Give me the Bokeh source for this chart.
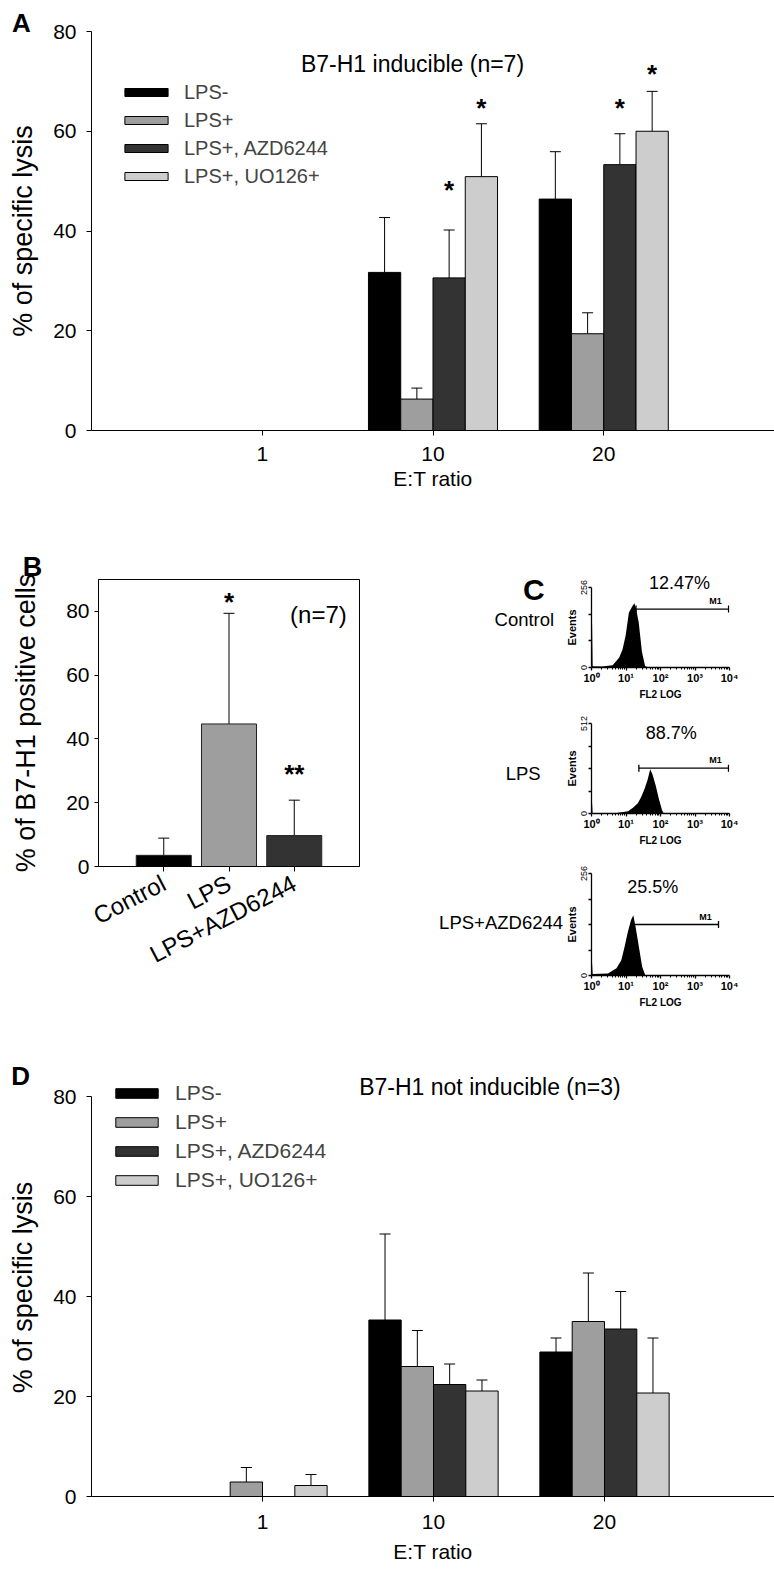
import math
from bokeh.plotting import figure
from bokeh.models import (ColumnDataSource, Whisker, TeeHead, Legend, LegendItem,
                          Label, FixedTicker, CustomJSTickFormatter, Range1d)
from bokeh.layouts import column, row
from bokeh.transform import dodge
from bokeh.core.properties import value
from bokeh.embed import file_html
from bokeh.resources import INLINE

FONT = "Liberation Sans"

# ---------------- data ----------------
ratios = ["1", "10", "20"]
series_names = ["LPS-", "LPS+", "LPS+, AZD6244", "LPS+, UO126+"]
series_colors = ["#000000", "#9e9e9e", "#333333", "#cdcdcd"]

# Panel A: B7-H1 inducible (n=7), % specific lysis
a_lps_neg = [0.0, 31.7, 46.4]
a_lps_neg_err = [0.0, 11.0, 9.5]
a_lps_pos = [0.0, 6.3, 19.4]
a_lps_pos_err = [0.0, 2.2, 4.2]
a_azd = [0.0, 30.6, 53.3]
a_azd_err = [0.0, 9.6, 6.2]
a_uo = [0.0, 50.9, 60.0]
a_uo_err = [0.0, 10.6, 8.0]
a_star_azd = [None, 49.5, 65.8]
a_star_uo = [None, 65.9, 72.6]

# Panel D: B7-H1 not inducible (n=3)
d_lps_neg = [0.0, 35.3, 28.9]
d_lps_neg_err = [0.0, 17.2, 2.8]
d_lps_pos = [2.9, 26.0, 35.0]
d_lps_pos_err = [2.9, 7.2, 9.7]
d_azd = [0.0, 22.4, 33.5]
d_azd_err = [0.0, 4.1, 7.5]
d_uo = [2.2, 21.1, 20.7]
d_uo_err = [2.2, 2.2, 11.0]

# Panel B: % of B7-H1 positive cells
b_groups = ["Control", "LPS", "LPS+AZD6244"]
b_pct = [3.5, 44.7, 9.7]
b_err = [5.4, 34.7, 11.1]
b_colors = ["#000000", "#9e9e9e", "#333333"]
b_sig = ["", "*", "**"]
b_sig_y = [0.0, 84.7, 30.8]

# Panel C: flow cytometry histograms (FL2 intensity, events)
c_conditions = ["Control", "LPS", "LPS+AZD6244"]
c_percent = ["12.47%", "88.7%", "25.5%"]
c_events_max = [256, 512, 256]
c1_fl2 = [1.0, 1.04, 1.08, 2.0, 4.1, 6.3, 7.9, 9.8, 12.1, 15.1, 17.5, 19.5, 23.4, 28.9, 35.7, 44.6]
c1_events = [138, 138, 4, 3, 7, 31, 57, 103, 175, 195, 206, 190, 144, 51, 5, 0]
c2_fl2 = [1.0, 1.04, 1.08, 4.4, 6.7, 11.5, 15.9, 22.0, 27.3, 34.0, 42.3, 50.3, 58.4, 72.3, 89.9, 111, 125]
c2_events = [59, 59, 0, 0, 5, 13, 33, 59, 92, 137, 192, 252, 223, 161, 82, 18, 0]
c3_fl2 = [1.0, 1.04, 1.08, 3.0, 5.3, 7.3, 9.1, 11.3, 14.0, 16.3, 19.0, 23.6, 29.4, 36.4]
c3_events = [30, 30, 4, 5, 18, 38, 72, 109, 139, 151, 122, 72, 22, 0]
c_gate_start = [19.5, 23.6, 16.3]
c_gate_end = [9400, 9350, 4800]
c_gate_level = [187, 258, 128]


# ---------------- helpers ----------------
def add_label(p, x, y, text, size, bold=False, align="center", baseline="middle",
              side="center", **kw):
    p.add_layout(Label(x=x, y=y, text=text, text_font=FONT, text_font_size=size,
                       text_font_style="bold" if bold else "normal", text_align=align,
                       text_baseline=baseline, text_color="black", **kw), side)


def style_axes(p, tick_fs, label_fs, tick_out=5):
    for ax in p.axis:
        ax.axis_line_color = "black"
        ax.axis_line_width = 1
        ax.major_tick_line_color = "black"
        ax.major_tick_out = tick_out
        ax.major_tick_in = 0
        ax.minor_tick_line_color = None
        ax.major_label_text_font = FONT
        ax.major_label_text_font_size = tick_fs
        ax.major_label_text_color = "black"
        ax.axis_label_text_font = FONT
        ax.axis_label_text_font_size = label_fs
        ax.axis_label_text_font_style = "normal"
        ax.axis_label_text_color = "black"
    p.xgrid.visible = False
    p.ygrid.visible = False


def lysis_panel(vals, errs, stars, height, top_b, bottom_b, left_b, y_end,
                title, title_xy, title_side, leg, letter, letter_xy,
                xlab_std, xtitle_std):
    fw = 774 - left_b
    fh = height - top_b - bottom_b
    p = figure(width=774, height=height, x_range=Range1d(0, fw / 171.0),
               y_range=Range1d(0, y_end),
               output_backend="svg", toolbar_location=None,
               min_border_left=left_b, min_border_right=0, min_border_top=top_b,
               min_border_bottom=bottom_b)
    p.outline_line_color = None
    ppu = fh / y_end
    w = 0.189
    offs = [-1.5 * w, -0.5 * w, 0.5 * w, 1.5 * w]
    xs = [1, 2, 3]
    items = []
    for i in range(4):
        src = ColumnDataSource(dict(x=xs, top=vals[i]))
        r = p.vbar(x=dodge("x", offs[i]), top="top", width=w, source=src,
                   fill_color=series_colors[i], line_color="black", line_width=1)
        items.append(LegendItem(label=series_names[i], renderers=[r]))
        keep = [k for k in range(3) if errs[i][k] > 0]
        wsrc = ColumnDataSource(dict(x=[xs[k] for k in keep],
                                     lower=[vals[i][k] for k in keep],
                                     upper=[vals[i][k] + errs[i][k] for k in keep]))
        p.add_layout(Whisker(source=wsrc, base=dodge("x", offs[i]), lower="lower", upper="upper",
                             dimension="height", line_color="black", line_width=1,
                             upper_head=TeeHead(size=11, line_color="black", line_width=1),
                             lower_head=None))
    for si, ys in stars:
        keep = [k for k in range(3) if ys[k] is not None]
        ssrc = ColumnDataSource(dict(x=[xs[k] for k in keep],
                                     y=[ys[k] - 6.0 / ppu for k in keep],
                                     t=["*"] * len(keep)))
        p.text(x=dodge("x", offs[si]), y="y", text="t", source=ssrc,
               text_font=value(FONT), text_font_size="26px", text_font_style="bold",
               text_align="center", text_baseline="middle", text_color="black")
    gw, gh, lh, lstd, lfs, lx, ltop = leg
    legend = Legend(items=items, location=(lx, fh - ltop - 4 * lh),
                    glyph_width=gw, glyph_height=gh, label_height=lh, label_standoff=lstd,
                    spacing=0, padding=0, margin=0, border_line_color=None,
                    background_fill_alpha=0, label_text_font=FONT, label_text_font_size=lfs)
    p.add_layout(legend)
    add_label(p, title_xy[0], title_xy[1], title, "23px", side=title_side)
    add_label(p, letter_xy[0], letter_xy[1], letter, "26px", bold=True, side="above")
    p.xaxis.ticker = FixedTicker(ticks=xs)
    p.xaxis.major_label_overrides = {i + 1: r for i, r in enumerate(ratios)}
    p.yaxis.ticker = FixedTicker(ticks=[0, 20, 40, 60, 80])
    p.yaxis.bounds = (0, 80)
    p.xaxis.axis_label = "E:T ratio"
    p.yaxis.axis_label = "% of specific lysis"
    style_axes(p, "21px", "27px")
    p.xaxis.axis_label_text_font_size = "21px"
    p.xaxis.major_label_standoff = xlab_std
    p.xaxis.axis_label_standoff = xtitle_std
    p.yaxis.major_label_standoff = 10
    p.yaxis.axis_label_standoff = 12
    return p


# ---------------- Panel A ----------------
pA = lysis_panel([a_lps_neg, a_lps_pos, a_azd, a_uo],
                 [a_lps_neg_err, a_lps_pos_err, a_azd_err, a_uo_err],
                 [(2, a_star_azd), (3, a_star_uo)],
                 height=500, top_b=31, bottom_b=70, left_b=90, y_end=80,
                 title="B7-H1 inducible (n=7)", title_xy=(1.88, 73.5), title_side="center",
                 leg=(54, 10, 28, 11, "20px", 28, 47),
                 letter="A", letter_xy=(-0.41, 81.8), xlab_std=11, xtitle_std=3)

# ---------------- Panel D ----------------
pD = lysis_panel([d_lps_neg, d_lps_pos, d_azd, d_uo],
                 [d_lps_neg_err, d_lps_pos_err, d_azd_err, d_uo_err],
                 [],
                 height=560, top_b=68, bottom_b=74, left_b=91, y_end=83.6,
                 title="B7-H1 not inducible (n=3)", title_xy=(2.33, 82.0), title_side="above",
                 leg=(53, 12, 29, 12, "21px", 19, 0),
                 letter="D", letter_xy=(-0.415, 84.1), xlab_std=13, xtitle_std=8)

# ---------------- Panel B ----------------
pB = figure(width=430, height=510, x_range=Range1d(0, 4), y_range=Range1d(0, 90),
            output_backend="svg", toolbar_location=None,
            min_border_left=98, min_border_right=71, min_border_top=79, min_border_bottom=144)
pB.outline_line_color = "black"
pB.outline_line_width = 1
bx = [1, 2, 3]
bsrc = ColumnDataSource(dict(x=bx, top=b_pct, color=b_colors,
                             upper=[v + e for v, e in zip(b_pct, b_err)]))
pB.vbar(x="x", top="top", width=0.843, source=bsrc, fill_color="color",
        line_color="#222222", line_width=1)
pB.add_layout(Whisker(source=bsrc, base="x", lower="top", upper="upper", dimension="height",
                      line_color="black", line_width=1,
                      upper_head=TeeHead(size=11, line_color="black", line_width=1),
                      lower_head=None))
ppu_b = 287 / 90.0
keep = [k for k in range(3) if b_sig[k]]
pB.text(x=[bx[k] for k in keep], y=[b_sig_y[k] - 6.0 / ppu_b for k in keep],
        text=[b_sig[k] for k in keep], text_font=value(FONT), text_font_size="26px",
        text_font_style="bold", text_align="center", text_baseline="middle", text_color="black")
add_label(pB, 3.37, 79.0, "(n=7)", "24px")
add_label(pB, -1.01, 93.9, "B", "27px", bold=True, side="above")
pB.xaxis.ticker = FixedTicker(ticks=bx)
pB.xaxis.major_label_overrides = {i + 1: g for i, g in enumerate(b_groups)}
pB.xaxis.major_label_orientation = 0.48
pB.yaxis.ticker = FixedTicker(ticks=[0, 20, 40, 60, 80])
pB.yaxis.axis_label = "% of B7-H1 positive cells"
style_axes(pB, "21px", "27px")
pB.xaxis.major_label_text_font_size = "24px"
pB.yaxis.major_tick_out = 4
pB.yaxis.major_label_standoff = 5
pB.yaxis.axis_label_standoff = 22
pB.xaxis.major_label_standoff = 10


# ---------------- Panel C ----------------
def hist_panel(idx, fl2, events, ndiv, height, top_b, bottom_b, left_b,
               pct_xy, pct_side, cond_xy, letter_xy=None):
    ymax = c_events_max[idx]
    p = figure(width=344, height=height, x_axis_type="log", x_range=Range1d(1, 10000),
               y_range=Range1d(0, ymax), output_backend="svg", toolbar_location=None,
               min_border_left=left_b, min_border_right=344 - left_b - 142,
               min_border_top=top_b, min_border_bottom=bottom_b)
    p.outline_line_color = None
    p.varea(x=fl2, y1=0, y2=events, fill_color="black")
    gsrc = ColumnDataSource(dict(level=[c_gate_level[idx]], start=[c_gate_start[idx]],
                                 end=[c_gate_end[idx]]))
    p.add_layout(Whisker(source=gsrc, base="level", lower="start", upper="end",
                         dimension="width", line_color="black", line_width=1.3,
                         upper_head=TeeHead(size=7, line_color="black", line_width=1.3),
                         lower_head=TeeHead(size=7, line_color="black", line_width=1.3)))
    add_label(p, c_gate_end[idx], c_gate_level[idx], "M1", "9px", bold=True,
              baseline="bottom", x_offset=-13, y_offset=3)
    add_label(p, pct_xy[0], pct_xy[1], c_percent[idx], "18px", side=pct_side)
    add_label(p, cond_xy[0], cond_xy[1], c_conditions[idx], "18.5px", align="right", side="left")
    if letter_xy:
        add_label(p, letter_xy[0], letter_xy[1], "C", "30px", bold=True, side="left")
    p.xaxis.ticker = FixedTicker(ticks=[1, 10, 100, 1000, 10000],
                                 minor_ticks=[m * 10 ** k for k in range(4) for m in range(2, 10)])
    p.xaxis.formatter = CustomJSTickFormatter(
        code="const s=['\u2070','\u00b9','\u00b2','\u00b3','\u2074']; return '10'+s[Math.round(Math.log10(tick))];")
    p.yaxis.ticker = FixedTicker(ticks=[ymax * i / ndiv for i in range(ndiv + 1)])
    p.yaxis.formatter = CustomJSTickFormatter(
        args=dict(top=ymax),
        code="return (Math.abs(tick)<1e-9 || Math.abs(tick-top)<1e-6) ? String(Math.round(tick)) : '';")
    p.yaxis.major_label_orientation = "vertical"
    p.xaxis.axis_label = "FL2 LOG"
    p.yaxis.axis_label = "Events"
    style_axes(p, "10px", "10px", tick_out=3)
    for ax in p.axis:
        ax.axis_line_width = 1.3
        ax.major_tick_line_width = 1.3
        ax.axis_label_text_font_style = "bold"
    p.xaxis.major_label_text_font_size = "11px"
    p.xaxis.major_label_text_font_style = "bold"
    p.yaxis.major_label_text_font_size = "9px"
    p.yaxis.axis_label_text_font_size = "11px"
    p.xaxis.minor_tick_line_color = "black"
    p.xaxis.minor_tick_out = 2
    p.xaxis.minor_tick_in = 0
    p.xaxis.major_label_standoff = 1
    p.xaxis.axis_label_standoff = 2
    p.yaxis.major_label_standoff = 2
    p.yaxis.axis_label_standoff = 0
    return p


pC1 = hist_panel(0, c1_fl2, c1_events, 3, height=202, top_b=87, bottom_b=32, left_b=158,
                 pct_xy=(354, 269), pct_side="above", cond_xy=(0.0828, 154),
                 letter_xy=(0.0214, 250))
pC2 = hist_panel(1, c2_fl2, c2_events, 4, height=146, top_b=21, bottom_b=32, left_b=157,
                 pct_xy=(204, 458), pct_side="center", cond_xy=(0.0336, 229))
pC3 = hist_panel(2, c3_fl2, c3_events, 4, height=162, top_b=25, bottom_b=35, left_b=161,
                 pct_xy=(59.5, 222), pct_side="center", cond_xy=(0.1496, 132))

layout = column(pA, row(pB, column(pC1, pC2, pC3)), pD)

with open("out.html", "w") as f:
    f.write(file_html(layout, INLINE))
